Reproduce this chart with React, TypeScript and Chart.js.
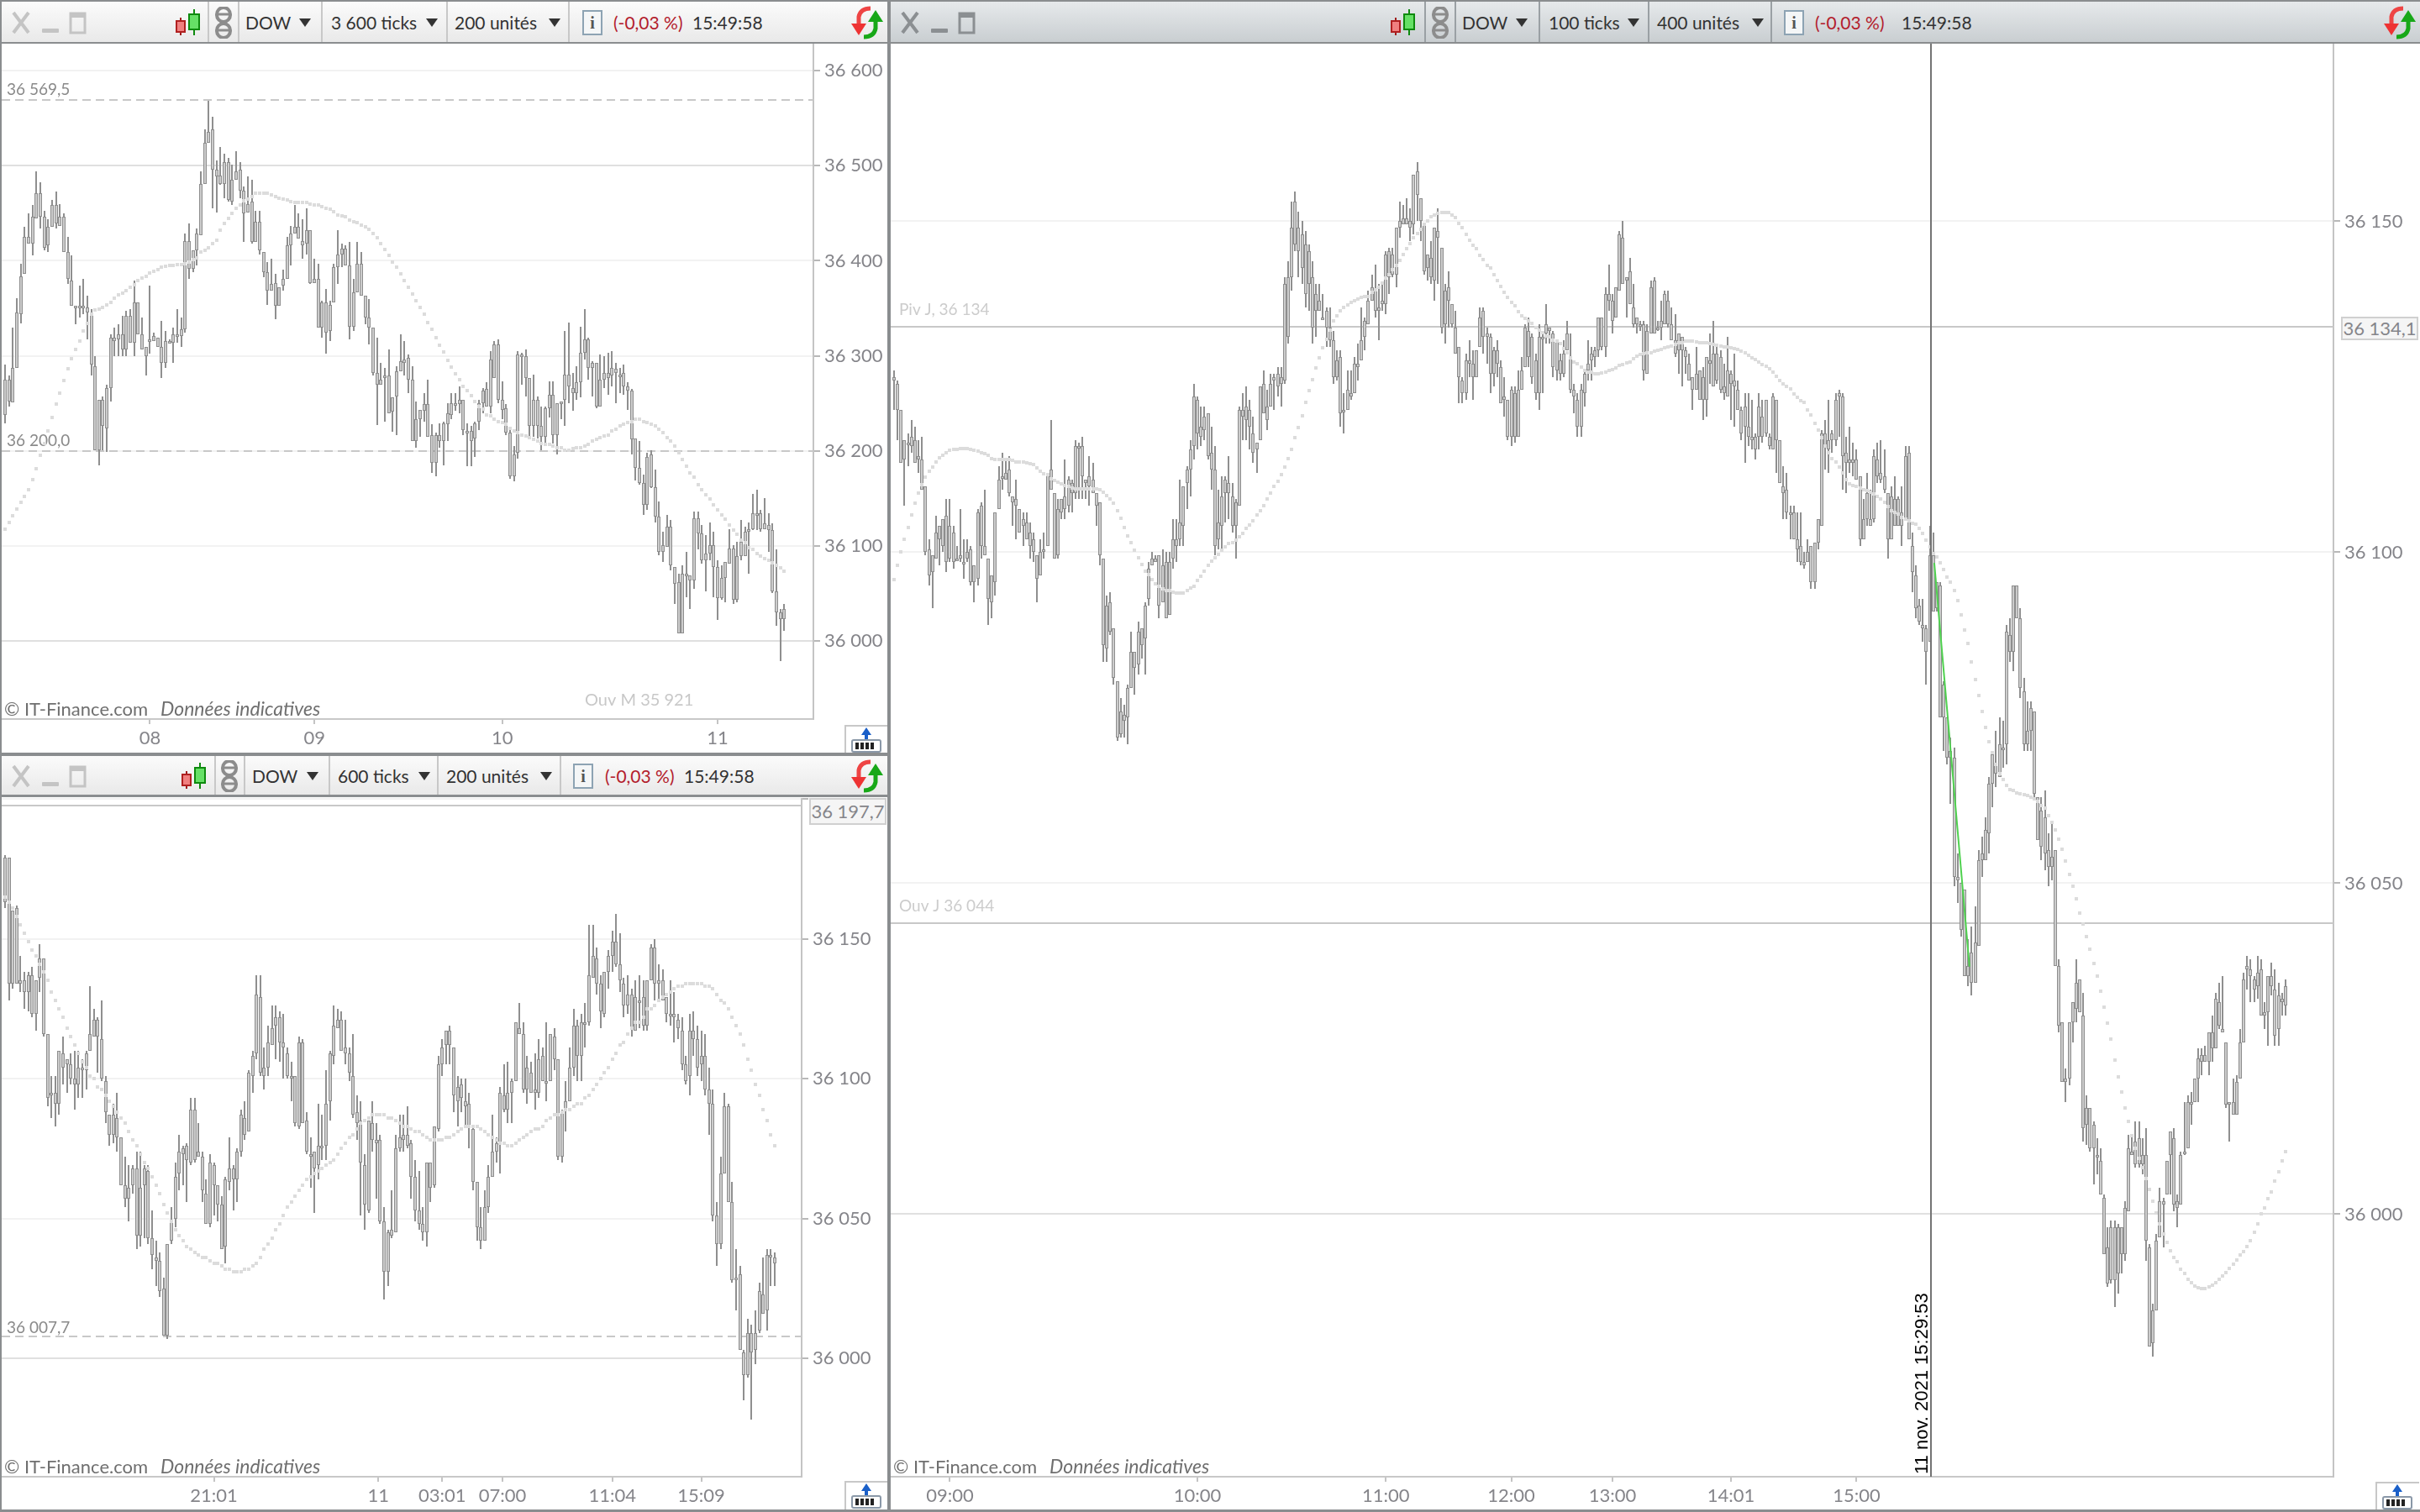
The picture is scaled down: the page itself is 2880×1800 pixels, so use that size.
import React, { useEffect, useRef } from "react";
import { Chart, registerables } from "chart.js";

Chart.register(...registerables);

// Each candle row: [high, low, body top, body bottom]
const topLeftBars: number[][] = [
[36291,36229,36275,36238],[36279,36247,36275,36252],[36330,36251,36287,36251],[36361,36287,36346,36287],[36397,36334,36384,36344],[36436,36386,36425,36386],[36450,36418,36425,36418],[36459,36406,36446,36418],[36494,36445,36471,36445],[36483,36434,36471,36446],
[36453,36411,36446,36414],[36444,36409,36436,36416],[36464,36436,36459,36436],[36473,36434,36459,36439],[36460,36437,36446,36437],[36450,36409,36446,36409],[36425,36376,36409,36381],[36406,36353,36379,36353],[36353,36333,36353,36351],[36374,36340,36353,36351],
[36381,36344,36353,36351],[36363,36317,36351,36346],[36349,36279,36346,36291],[36300,36201,36289,36201],[36254,36185,36254,36201],[36257,36201,36254,36226],[36270,36199,36266,36224],[36323,36252,36319,36266],[36330,36300,36319,36316],[36333,36300,36323,36317],
[36342,36300,36323,36307],[36347,36300,36342,36307],[36349,36314,36342,36314],[36379,36300,36356,36314],[36356,36323,36356,36323],[36340,36307,36323,36307],[36309,36279,36309,36300],[36374,36302,36317,36316],[36324,36316,36321,36316],[36319,36309,36319,36309],
[36337,36277,36309,36293],[36326,36287,36316,36293],[36317,36314,36316,36314],[36330,36293,36323,36314],[36349,36314,36323,36321],[36340,36309,36328,36321],[36429,36324,36421,36328],[36439,36381,36421,36392],[36411,36388,36411,36392],[36434,36395,36429,36411],
[36494,36427,36481,36427],[36538,36481,36524,36481],[36568,36524,36536,36524],[36552,36455,36538,36496],[36506,36451,36496,36489],[36520,36480,36490,36481],[36513,36466,36504,36481],[36508,36462,36504,36464],[36501,36459,36485,36462],[36515,36485,36494,36485],
[36504,36466,36496,36474],[36478,36420,36474,36450],[36489,36451,36460,36451],[36485,36418,36462,36420],[36453,36420,36441,36420],[36453,36407,36441,36411],[36409,36383,36409,36388],[36399,36354,36388,36369],[36402,36369,36376,36369],[36386,36339,36377,36353],
[36372,36353,36372,36353],[36391,36369,36381,36374],[36425,36381,36416,36381],[36437,36395,36429,36416],[36459,36429,36436,36429],[36450,36423,36436,36423],[36444,36402,36421,36416],[36455,36407,36432,36418],[36432,36376,36432,36377],[36402,36377,36381,36377],
[36397,36330,36381,36330],[36358,36319,36356,36330],[36370,36302,36356,36324],[36358,36316,36354,36326],[36397,36356,36393,36356],[36432,36376,36407,36393],[36418,36393,36413,36407],[36416,36395,36413,36395],[36420,36317,36395,36331],[36381,36326,36367,36331],
[36420,36367,36397,36367],[36409,36363,36397,36363],[36363,36333,36363,36340],[36360,36312,36340,36330],[36330,36279,36330,36282],[36319,36227,36282,36270],[36293,36270,36275,36270],[36287,36231,36279,36277],[36307,36240,36279,36240],[36256,36220,36256,36241],
[36289,36217,36284,36257],[36323,36284,36294,36284],
[36316,36279,36296,36293],[36301,36261,36298,36275],[36289,36210,36275,36210],[36252,36203,36233,36210],[36243,36215,36243,36233],[36261,36231,36249,36242],[36275,36215,36249,36215],[36228,36177,36217,36187],[36219,36173,36217,36187],[36229,36203,36217,36210],
[36231,36185,36229,36210],[36250,36210,36240,36228],[36261,36233,36250,36238],[36261,36242,36250,36249],[36268,36240,36254,36249],[36254,36217,36254,36222],[36229,36184,36221,36220],[36226,36184,36221,36210],[36231,36194,36229,36213],[36254,36222,36250,36231],
[36266,36240,36263,36250],[36272,36247,36265,36247],[36305,36240,36296,36247],[36316,36277,36312,36277],[36317,36250,36312,36254],[36273,36233,36254,36243],[36249,36217,36245,36219],[36222,36171,36219,36173],[36205,36168,36196,36173],[36305,36192,36301,36198],
[36303,36270,36301,36300],[36307,36257,36300,36277],[36277,36215,36277,36226],[36280,36215,36254,36226],[36257,36213,36254,36226],[36247,36201,36226,36215],[36247,36205,36245,36215],[36273,36235,36259,36245],[36273,36208,36259,36217],[36250,36196,36250,36217],
[36252,36233,36252,36250],[36326,36226,36280,36254],[36335,36250,36280,36268],[36282,36242,36266,36261],[36289,36254,36272,36261],[36331,36256,36303,36272],[36349,36296,36317,36303],[36319,36275,36317,36287],[36294,36257,36293,36287],[36293,36245,36293,36247],
[36301,36247,36275,36247],[36300,36266,36282,36275],[36303,36259,36282,36277],[36305,36268,36287,36279],[36293,36250,36286,36282],[36287,36261,36280,36280],[36291,36259,36282,36268],[36272,36243,36268,36263],[36265,36196,36263,36212],[36213,36169,36213,36182],
[36210,36164,36182,36166],[36175,36133,36166,36143],[36198,36138,36194,36143],[36201,36161,36196,36162],[36180,36125,36162,36131],[36147,36090,36131,36094],[36115,36083,36101,36094],[36133,36099,36120,36099],[36127,36074,36120,36080],[36078,36039,36078,36060],
[36071,36008,36062,36008],[36080,36008,36071,36008],[36094,36046,36071,36069],[36069,36034,36069,36064],[36136,36055,36129,36064],[36136,36096,36129,36113],[36122,36081,36113,36085],[36111,36052,36092,36085],[36125,36085,36101,36092],[36115,36046,36101,36078],
[36085,36022,36078,36045],[36080,36043,36066,36045],[36083,36041,36083,36066],[36118,36081,36097,36081],[36101,36039,36097,36043],[36104,36041,36089,36043],[36127,36085,36104,36089],[36120,36089,36115,36089],[36125,36071,36118,36115],[36155,36117,36134,36118],
[36159,36117,36134,36134],[36138,36115,36134,36118],[36150,36118,36124,36118],[36134,36094,36122,36117],[36124,36050,36117,36052],[36096,36016,36052,36030],[36034,35979,36030,36023],[36039,36011,36034,36023],
];
const topLeftMa: number[] = [
36118,36125,36132,36139,36146,36152,36159,36170,36181,36195,36208,36221,36235,36249,36261,36274,36286,36297,36307,36316,36326,36334,36344,36348,36349,36351,36354,36356,36361,36364,36366,36369,36372,36375,36379,36382,36384,36387,36389,36391,
36393,36394,36395,36395,36396,36396,36397,36399,36401,36403,36409,36411,36414,36418,36422,36432,36439,36445,36450,36455,36459,36463,36465,36468,36471,36471,36471,36471,36469,36468,36466,36465,36464,36462,36461,36461,36461,36461,36460,36459,
36459,36457,36455,36454,36452,36448,36447,36446,36443,36441,36440,36438,36436,36433,36429,36424,36418,36412,36406,36399,36393,36386,36379,36372,36365,36358,36351,36344,36335,36328,36319,36311,36304,36295,36288,36281,36275,36268,36263,36258,
36252,36247,36244,36238,36237,36233,36231,36230,36228,36224,36221,36219,36217,36216,36214,36212,36210,36208,36207,36207,36205,36203,36203,36201,36201,36202,36203,36203,36205,36207,36210,36212,36214,36216,36217,36221,36223,36226,36228,36230,
36231,36233,36233,36231,36230,36228,36226,36223,36219,36214,36210,36205,36198,36191,36184,36177,36172,36164,36159,36154,36149,36143,36138,36133,36128,36122,36117,36112,36106,36103,36098,36096,36092,36089,36087,36085,36082,36080,36077,36073,
];
const bottomLeftBars: number[][] = [
[36180,36161,36179,36163],[36179,36128,36179,36134],[36160,36132,36160,36134],[36162,36134,36161,36134],[36144,36131,36135,36134],[36138,36125,36135,36131],[36138,36124,36137,36131],[36140,36122,36137,36123],[36135,36117,36135,36123],[36148,36131,36143,36136],
[36143,36115,36143,36116],[36116,36090,36116,36093],[36101,36086,36095,36094],[36101,36083,36095,36091],[36110,36087,36110,36091],[36115,36098,36109,36104],[36107,36095,36107,36105],[36109,36098,36105,36100],[36110,36089,36100,36098],[36110,36093,36104,36098],
[36107,36093,36104,36103],[36110,36096,36109,36103],[36133,36110,36116,36110],[36125,36115,36121,36115],[36122,36102,36121,36115],[36128,36099,36114,36100],[36101,36084,36099,36088],[36087,36076,36087,36080],[36091,36077,36087,36080],[36095,36074,36086,36079],
[36079,36062,36079,36062],[36072,36054,36062,36057],[36069,36049,36061,36057],[36069,36059,36068,36062],[36074,36039,36068,36044],[36074,36040,36061,36044],[36069,36043,36068,36062],[36069,36041,36067,36043],[36053,36032,36043,36037],[36042,36026,36036,36035],
[36038,36022,36035,36024],[36029,36008,36025,36008],[36041,36007,36041,36008],[36054,36041,36049,36042],[36070,36047,36065,36050],[36080,36060,36074,36066],[36076,36062,36075,36073],[36077,36056,36076,36071],[36093,36069,36089,36070],[36093,36070,36089,36071],
[36084,36072,36074,36072],[36074,36056,36072,36060],[36064,36048,36059,36048],[36073,36047,36070,36048],[36070,36051,36069,36062],[36062,36049,36062,36055],[36058,36039,36055,36039],[36065,36034,36064,36040],[36079,36060,36068,36063],[36069,36053,36068,36064],
[36075,36056,36074,36064],[36089,36072,36087,36074],[36092,36078,36086,36080],[36103,36081,36102,36081],[36110,36095,36108,36101],[36137,36107,36130,36109],[36137,36101,36129,36102],[36111,36096,36104,36101],[36119,36101,36113,36104],[36126,36112,36118,36112],
[36126,36107,36122,36119],[36124,36106,36122,36113],[36123,36100,36113,36111],[36111,36100,36109,36101],[36106,36092,36101,36101],[36101,36083,36101,36084],[36115,36082,36113,36083],[36114,36084,36113,36084],[36088,36073,36085,36074],[36079,36061,36073,36072],
[36074,36052,36074,36068],[36091,36064,36076,36069],[36087,36071,36076,36076],[36103,36071,36091,36076],[36110,36085,36109,36092],[36126,36105,36119,36108],[36125,36118,36121,36118],[36124,36110,36121,36110],[36121,36105,36111,36109],[36111,36099,36109,36102],
[36116,36086,36101,36087],[36094,36078,36088,36084],[36092,36051,36085,36070],[36073,36046,36069,36055],[36085,36052,36085,36053],[36092,36074,36084,36078],[36084,36057,36078,36077],[36080,36048,36078,36049],[36054,36021,36049,36031],[36046,36026,36045,36031],
[36060,36043,36046,36044],[36080,36045,36075,36045],[36087,36074,36079,36075],
[36087,36074,36080,36078],[36090,36075,36080,36076],[36078,36057,36077,36065],[36071,36049,36065,36053],[36067,36046,36053,36048],[36054,36042,36048,36045],[36070,36040,36070,36045],[36070,36056,36070,36061],[36083,36061,36083,36062],[36108,36081,36105,36082],
[36114,36101,36111,36105],[36117,36105,36117,36112],[36119,36105,36117,36112],[36111,36088,36111,36094],[36101,36083,36097,36092],[36100,36088,36098,36093],[36100,36083,36092,36090],[36095,36075,36091,36083],[36083,36060,36082,36063],[36063,36042,36063,36047],
[36054,36039,36047,36042],[36060,36042,36054,36042],[36069,36052,36065,36054],[36087,36065,36074,36065],[36079,36070,36077,36074],[36097,36066,36095,36077],[36105,36088,36094,36089],[36106,36084,36095,36089],[36100,36084,36099,36095],[36120,36099,36120,36099],
[36127,36116,36118,36116],[36120,36095,36116,36096],[36108,36091,36104,36096],[36106,36095,36102,36095],[36109,36089,36096,36095],[36114,36093,36107,36095],[36111,36099,36108,36099],[36120,36092,36099,36099],[36116,36099,36116,36099],[36118,36103,36115,36107],
[36107,36071,36107,36072],[36089,36070,36088,36072],[36099,36081,36092,36089],[36111,36092,36104,36092],[36125,36101,36119,36104],[36121,36099,36119,36108],[36123,36099,36120,36108],[36127,36111,36120,36120],[36155,36119,36137,36120],[36155,36136,36144,36136],
[36147,36130,36143,36134],[36137,36118,36134,36124],[36138,36122,36138,36123],[36146,36132,36144,36138],[36153,36138,36149,36144],[36159,36140,36149,36141],[36152,36131,36141,36135],[36136,36122,36134,36126],[36137,36123,36130,36126],[36132,36115,36130,36118],
[36135,36117,36129,36117],[36137,36118,36128,36128],[36135,36117,36129,36119],[36135,36117,36135,36119],[36148,36135,36147,36135],[36150,36128,36147,36134],[36141,36128,36135,36134],[36139,36128,36135,36128],[36129,36120,36129,36123],[36135,36119,36123,36123],
[36131,36113,36123,36122],[36123,36114,36121,36118],[36122,36103,36117,36105],[36108,36098,36105,36099],[36123,36094,36117,36101],[36124,36108,36117,36114],[36119,36101,36114,36104],[36117,36099,36108,36105],[36116,36094,36108,36096],[36104,36080,36096,36091],
[36096,36049,36091,36051],[36056,36033,36051,36041],[36072,36039,36066,36041],[36095,36066,36090,36066],[36091,36056,36090,36056],[36063,36027,36056,36028],[36039,36017,36029,36029],[36033,36003,36030,36003],[36003,35985,36002,35994],[36014,35993,36009,35994],
[36012,35978,36009,36002],[36017,35998,36009,36003],[36027,36009,36024,36010],[36036,36016,36023,36016],[36039,36010,36037,36017],[36039,36026,36037,36036],[36038,36026,36036,36034],
];
const bottomLeftMa: number[] = [
36165,36163,36161,36158,36155,36152,36149,36146,36144,36141,36138,36135,36131,36128,36125,36122,36118,36115,36112,36109,36106,36104,36101,36100,36097,36096,36094,36092,36090,36088,36086,36084,36081,36078,36076,36073,36070,36068,36065,36062,
36059,36055,36052,36049,36046,36044,36042,36040,36039,36038,36037,36036,36036,36035,36034,36034,36033,36032,36032,36031,36031,36031,36032,36032,36033,36034,36036,36039,36041,36043,36046,36048,36051,36054,36056,36058,36060,36062,36064,36065,
36066,36067,36068,36069,36070,36071,36073,36075,36077,36079,36080,36082,36084,36085,36086,36087,36087,36087,36087,36086,36086,36085,36084,36083,36083,36082,36081,36081,36080,36079,36078,36078,36078,36078,36079,36079,36080,36081,36082,36083,
36083,36083,36083,36082,36081,36080,36079,36078,36077,36077,36076,36076,36077,36078,36079,36080,36081,36082,36082,36083,36085,36086,36087,36087,36088,36089,36089,36090,36091,36091,36093,36094,36096,36098,36100,36102,36104,36107,36109,36112,
36113,36116,36118,36120,36120,36122,36125,36125,36126,36128,36129,36130,36131,36132,36133,36133,36134,36134,36134,36134,36134,36133,36133,36132,36130,36128,36127,36125,36122,36119,36116,36112,36107,36103,36098,36094,36089,36085,36080,36076,
];
const rightBars: number[][] = [
[36127.5,36121.5,36126.5,36126],[36126,36117,36125.5,36121.5],[36121.5,36113.5,36121.5,36113.5],[36117,36107,36117,36114],[36118,36113,36116.5,36116.5],[36120,36115,36117.5,36116],[36119,36113.5,36117,36113.5],[36117,36112,36114.5,36114],[36117.5,36109.5,36114,36109.5],[36110,36099.5,36110,36100],
[36102,36095,36100.5,36096.5],[36099.5,36091.5,36099.5,36097],[36105.5,36099,36103,36099],[36104,36098,36104,36102],[36105,36100,36105,36101],[36108,36097,36105.5,36098.5],[36108,36098.5,36104,36099],[36104,36097.5,36103,36098.5],[36101,36099,36099,36099],[36106.5,36098.5,36099.5,36099],
[36102,36096,36098.5,36098.5],[36102,36098.5,36100,36099],[36101,36095,36100.5,36095.5],[36098,36092.5,36098,36095.5],[36106.5,36095,36106,36096],[36107.5,36099,36107,36101],[36109.5,36099.5,36101,36099.5],[36099,36089,36099,36093],[36096.5,36090,36096.5,36092.5],[36106,36093.5,36106,36095.5],
[36113,36106.5,36111,36106.5],[36115,36109.5,36111.5,36111.5],[36114,36111,36112,36111],[36114.5,36108.5,36112.5,36109],[36108.5,36104,36108.5,36107.5],[36111,36102,36108,36107],[36106.5,36103,36106.5,36103],[36106,36101,36105,36104],[36106,36102,36104.5,36102],[36104.5,36099,36103,36101],
[36103,36098.5,36102,36100],[36099.5,36092.5,36099.5,36096],[36102,36096.5,36100,36096.5],[36103,36099,36100.5,36100],[36112,36101,36112,36101],[36120,36109.5,36112.5,36109.5],[36109,36099,36109,36099],[36108,36099,36106.5,36099.5],[36108,36105,36108,36106],[36114,36105,36108.5,36106.5],
[36111.5,36106,36111,36107],[36111,36106,36110.5,36109],[36117,36108,36116,36109],[36116.5,36108,36116,36116],[36117.5,36108,36116,36111.5],[36111,36108,36111,36110.5],[36114.5,36107,36111.5,36110],[36113.5,36109,36111,36109],[36109,36104,36109,36107],[36107.5,36098,36107.5,36099.5],
[36099,36083.5,36099,36086],[36093.5,36083.5,36092,36085.5],[36094,36087.5,36092.5,36088],[36088.5,36080,36088.5,36081],[36080.5,36071.5,36080.5,36072],[36078,36072,36076,36072.5],[36077,36072,36075.5,36074.5],[36080,36071,36079.5,36075],[36088,36079.5,36085,36079.5],[36085,36078.5,36085,36082.5],
[36089.5,36081.5,36088,36083],[36088.5,36084,36088.5,36086],[36092.5,36081.5,36092,36087],[36098.5,36092,36097.5,36093],[36100,36098,36099,36098],[36099.5,36098.5,36099,36098.5],[36099.5,36090,36099.5,36092],[36100.5,36092.5,36098,36092.5],[36100,36090,36098.5,36090],[36100,36090.5,36098.5,36090.5],
[36105,36097.5,36102,36099],[36105,36098.5,36102,36101],[36111,36101,36104.5,36102],[36110,36101,36110,36104],[36113,36106.5,36112.5,36110.5],[36117,36108.5,36115.5,36112.5],[36125.5,36114,36123.5,36116],[36123.5,36115.5,36123,36118],[36122,36116,36119,36117.5],[36122,36117,36120.5,36118.5],
[36121,36114,36121,36114.5],[36119,36109.5,36115,36112.5],[36116,36099.5,36112.5,36101],[36109.5,36100.5,36104.5,36102],[36111.5,36100.5,36108.5,36104],[36111.5,36104.5,36111,36109],[36114.5,36105,36110.5,36109],[36110.5,36103,36108.5,36104],[36108,36099,36107.5,36104],[36122,36107,36121.5,36107],
[36124,36117,36121.5,36120.5],[36125,36117,36122,36120],[36123,36115.5,36121.5,36119],[36120.5,36113.5,36118,36115],[36116.5,36112,36116.5,36115.5],[36125,36117,36125,36117],[36127.5,36121,36125.5,36121],[36124.5,36118.5,36122,36120],[36127,36122,36125.5,36122],[36127,36121.5,36126.5,36126],
[36128,36123.5,36127,36125],[36128,36122,36126.5,36125.5],[36141.5,36125.5,36140.5,36126],
[36144,36131.5,36141.5,36132.5],[36153,36139.5,36149,36141.5],[36154.5,36145.5,36153,36146.5],[36151.5,36141.5,36149,36145.5],[36150,36140.5,36148,36143],[36148.5,36137,36146.5,36139],[36146.5,36136.5,36145.5,36140.5],[36144,36131.5,36141.5,36134],[36140.5,36132.5,36139,36136.5],
[36140.5,36136.5,36138,36136.5],[36139,36135.5,36135.5,36135.5],[36137,36131,36136.5,36134],[36137,36131,36134,36132],[36133.5,36125.5,36132,36126.5],[36130.5,36126,36129,36126.5],[36130.5,36119,36129.5,36121],[36124,36118,36121.5,36121.5],[36127.5,36121.5,36124.5,36121.5],[36127.5,36123,36124,36123.5],
[36129.5,36124,36128.5,36124],[36131.5,36126,36128.5,36128],[36137,36129,36132,36129],[36135.5,36130.5,36135,36132.5],[36139.5,36134.5,36138,36134.5],[36142,36138,36140,36138],[36143.5,36135.5,36139.5,36136.5],[36140.5,36132,36137,36136.5],[36140.5,36136.5,36138,36137.5],[36145.5,36136,36145,36137.5],
[36146,36139,36145.5,36141.5],[36146,36141.5,36145,36142],[36149,36140,36149,36142],[36153,36147.5,36150,36149],[36152.5,36149.5,36150.5,36149.5],[36153.5,36149.5,36150.5,36149.5],[36152,36147,36150,36149],[36157,36148,36157,36149.5],[36159,36150,36157.5,36154],[36153.5,36147,36153.5,36150],
[36149.5,36142,36149.5,36142.5],[36145,36141,36145,36143],[36147,36140.5,36144.5,36141.5],[36149,36138,36149,36141],[36152,36140.5,36148.5,36147.5],[36146,36133,36146,36134],[36140.5,36131.5,36139.5,36134.5],[36142.5,36134,36140,36138],[36137.5,36134,36137.5,36134.5],[36136.5,36130,36134,36130],
[36131,36122.5,36131,36126.5],[36126.5,36122.5,36126,36124],[36130,36123,36129,36124],[36132,36126.5,36129,36128.5],[36130.5,36123,36128.5,36126.5],[36130.5,36126.5,36130.5,36126.5],[36137,36131,36135.5,36131],[36137,36130,36136.5,36132.5],[36134,36128.5,36133,36132.5],[36133,36124,36132.5,36127],
[36131,36125,36130.5,36127],[36132,36126.5,36130.5,36128.5],[36129,36122.5,36128,36122.5],[36126.5,36120.5,36123.5,36123],[36123,36117,36123,36117.5],[36125,36116,36124.5,36117.5],[36125,36116.5,36124,36117.5],[36127.5,36117.5,36124.5,36117.5],[36129.5,36124.5,36127.5,36124.5],[36134.5,36128,36134,36128],
[36135.5,36128,36133.5,36129.5],[36133,36125.5,36132.5,36126.5],[36130,36123,36129,36124],[36134.5,36121.5,36132.5,36124],[36133.5,36124,36132.5,36132.5],[36137.5,36131.5,36134.5,36133],[36134,36131.5,36134,36133.5],[36133.5,36126.5,36133,36128],[36132,36126,36132,36127.5],[36130,36126,36129,36127],
[36132,36126.5,36130,36127],[36135,36130.5,36133,36130.5],[36133,36124,36129.5,36124.5],[36125.5,36121,36124.5,36123.5],[36124,36117.5,36123,36119],[36125.5,36117.5,36124.5,36119],[36127.5,36122,36127,36124],[36132,36126,36128.5,36127.5],[36131,36126,36130,36129],[36131,36128,36130.5,36129.5],
[36135.5,36129.5,36135.5,36130.5],[36135.5,36130.5,36135.5,36131],[36140,36129.5,36139,36131],[36143.5,36136.5,36139,36138],[36139,36133,36138,36135],[36140,36135.5,36140,36135.5],[36148.5,36139.5,36148,36139.5],[36150,36140.5,36147.5,36140.5],[36141.5,36135.5,36141.5,36141],[36144.5,36137.5,36142.5,36137.5],
[36140.5,36134,36137,36134.5],[36135.5,36133,36135.5,36134.5],[36135,36133.5,36134.5,36134.5],[36135,36126,36134.5,36127.5],[36134.5,36127,36133.5,36127],[36141,36133,36140,36133],[36141.5,36133,36141,36133],[36135,36133.5,36134,36134],[36138,36132,36135,36134],[36139.5,36134.5,36139,36134.5],
[36139.5,36134,36138,36134.5],[36137,36132,36134.5,36132],[36136,36129.5,36132,36130],[36133,36127,36133,36130.5],[36132.5,36125,36132.5,36130.5],[36131,36127,36130.5,36129.5],[36130,36126,36128.5,36126],[36126.5,36121.5,36126.5,36124.5],[36131,36124.5,36127,36124.5],[36127.5,36123,36127.5,36123],
[36128,36120,36126.5,36123],[36129.5,36120.5,36129.5,36123],[36133,36125.5,36129,36128.5],[36135,36125,36130,36125],[36131,36125.5,36130,36126],[36130.5,36124,36129.5,36124.5],[36128.5,36123,36125,36124],[36132.5,36123.5,36127.5,36123.5],[36127.5,36120,36127,36125.5],[36130,36119,36126,36125],
[36126,36121.5,36124.5,36121.5],[36122,36117,36121.5,36118],[36124,36113.5,36122,36119],[36124,36116,36119,36117.5],[36123,36115.5,36117.5,36117],[36118,36114,36117.5,36115.5],[36124,36115.5,36122,36117.5],[36123,36116.5,36120.5,36117.5],[36123,36117.5,36123,36118],[36118,36115.5,36117.5,36116],
[36124,36115.5,36123.5,36115.5],[36123,36112,36123,36117],[36117,36110.5,36117,36110.5],[36113,36105,36110,36109],[36112,36105,36109.5,36106],[36107,36102,36106,36106],[36107,36102,36106,36102],[36106,36098.5,36102,36100.5],[36106,36098,36101,36098.5],[36100,36097.5,36098.5,36098],
[36102,36098.5,36100,36098.5],[36101,36094.5,36101,36095.5],[36101.5,36094.5,36101.5,36095.5],[36105,36100.5,36105,36101.5],[36118.5,36104,36118,36104],[36120,36112.5,36118,36116],[36123,36112,36117,36115.5],[36118.5,36115,36118,36117],[36124,36116,36123,36117],[36124.5,36117.5,36124,36123.5],
[36124,36109.5,36123.5,36114.5],[36117.5,36109,36115,36113.5],[36119,36112,36114,36113.5],[36116.5,36111.5,36114,36113.5],[36115.5,36111,36114,36111],[36111.5,36101,36111.5,36102],[36108,36102,36105,36102],[36112,36104,36109,36105],[36109.5,36104,36105,36104],[36115.5,36104.5,36114.5,36105],
[36116.5,36110.5,36114,36111.5],[36117,36110.5,36112,36111],[36115.5,36109,36111.5,36109.5],[36109,36099,36109,36102],[36110,36102,36108.5,36102],[36111.5,36104,36108,36104],[36108.5,36104,36108,36104],[36110,36101,36106,36104],[36116,36105,36114.5,36105],[36116,36102,36115,36102],
[36103,36094,36101,36097],[36098,36090,36096.5,36091.5],[36093,36089,36092,36089.5],[36093,36086.5,36089,36088.5],[36089,36080,36088.5,36085],
[36104,36086.5,36099.5,36086.5],[36103,36091,36099.5,36091],[36095.5,36091,36095.5,36091.5],[36095.5,36075,36095,36075],[36080.5,36070,36080,36075],[36075,36068,36075,36069],[36072,36062,36070,36069],[36070.5,36049.5,36069,36051],[36054.5,36047,36051,36050.5],[36050,36042,36050,36043],
[36049,36036,36049,36036],[36041.5,36034.5,36037.5,36036],[36043.5,36033,36039.5,36035],[36046.5,36035,36041,36035],[36055,36040.5,36053.5,36040.5],[36057,36051,36054.5,36053.5],[36060,36053.5,36058,36053.5],[36066,36054.5,36065,36057.5],[36069.5,36061.5,36069.5,36065],[36073,36064.5,36068,36066.5],
[36075,36066,36071,36066],[36074.5,36067.5,36070.5,36070.5],[36089,36068,36088,36071],[36090,36083.5,36087.5,36085],[36095,36082,36095,36085],[36095,36090,36095,36090],[36091.5,36078,36090,36079.5],[36081,36070,36079,36071],[36077.5,36070,36073,36071],[36077.5,36070,36076.5,36073],
[36076,36063,36076,36063.5],[36063,36056.5,36063,36056.5],[36063,36053.5,36061,36055.5],[36064,36052,36060,36054.5],[36057.5,36049.5,36055,36052.5],[36059,36050.5,36054,36052.5],[36055,36037.5,36055,36037.5],[36038.5,36027.5,36037.5,36028.5],[36029,36020,36029,36020],[36022,36017,36020.5,36020],
[36029,36019.5,36029,36020.5],[36032,36026,36032,36029],[36038.5,36029,36035,36031],[36035.5,36030.5,36035.5,36030.5],[36033.5,36011,36030,36013],[36018,36010.5,36016,36013.5],[36016,36009.5,36016,36010],[36014,36004.5,36013.5,36010],[36011.5,36006,36009,36009],[36010,36003,36008,36003],
[36003,35994,36002.5,35994],[35998,35989,35995,35989.5],[35999,35989.5,35998,35990],[35999,35986,35998,35990],[35998.5,35988,35998,35991],[35998,35991,35998,35994],[36002,35993,36001,35994],[36012,36000.5,36010,36000.5],[36012,36009,36009.5,36009],[36014,36007,36011,36007.5],
[36014,36007,36011.5,36007.5],[36011.5,36006,36009,36007.5],[36013,35993,36009,35996],[35995.5,35980,35995,35980],[35986.5,35978.5,35985.5,35980.5],[35997,35985.5,35996,35985.5],[36004,35996.5,36002,35996.5],[36002.5,35995,36002,36001.5],[36008,36003,36008,36003],[36012.5,36003,36012.5,36009],
[36013,36000.5,36011.5,36001.5],[36003,35998,36002,36001],[36009.5,36001.5,36009,36001.5],[36017,36009,36009.5,36009.5],[36018,36010,36017,36010],[36018.5,36013.5,36017,36017],[36020.5,36017,36020.5,36017],[36025,36017,36023.5,36020.5],[36025,36021,36024,36023],[36025.5,36023,36024,36023],
[36027.5,36021,36027.5,36023],[36030,36023,36027.5,36025],[36033.5,36025,36032.5,36025],[36035,36028,36032,36028.5],[36036,36027.5,36028,36027.5],[36026,36016,36026,36016.5],[36017,36011,36017,36016.5],[36020.5,36015,36017,36015],[36021,36015,36020,36015],[36028,36020.5,36026,36020.5],
[36036.5,36026,36035.5,36026],[36039,36034,36037.5,36037],[36038.5,36032,36037,36036],[36036,36032,36035.5,36034],[36039,36032.5,36036.5,36034.5],[36038.5,36030,36037,36030],[36032,36028,36030.5,36030],[36036,36025.5,36036,36030.5],[36038,36033,36036,36034.5],[36037,36025.5,36034,36027],
[36035,36025.5,36033,36028],[36033.5,36030,36032.5,36032],[36035.5,36030,36034.5,36031.5],
];
const rightMa: number[] = [
36095.9,36098,36100,36102,36103.8,36105.6,36107.4,36108.9,36110.2,36111.4,36112.2,36112.9,36113.7,36114.3,36114.7,36115.1,36115.4,36115.6,36115.6,36115.7,36115.7,36115.7,36115.5,36115.4,36115.3,36115.1,36114.9,36114.6,36114.2,36114,36114,36114,36114,36114,36113.9,36113.7,36113.7,36113.7,36113.5,36113.4,
36113.2,36112.7,36112.3,36111.9,36111.7,36111.1,36110.8,36110.6,36110.4,36110.1,36109.9,36109.7,36109.6,36109.6,36109.6,36109.6,36109.6,36109.6,36109.6,36109.4,36109.1,36108.6,36108.1,36107.4,36106.3,36105.1,36103.8,36102.5,36101.5,36100.3,
36099.2,36098.2,36097.2,36096.6,36095.9,36095.3,36094.8,36094.5,36094.2,36094.2,36094,36093.9,36093.9,36093.9,36094.2,36094.6,36094.9,36095.7,36096.4,36097.2,36098,36098.7,36099.2,36099.7,36100.3,36100.8,36101.3,36101.5,36101.8,36102.3,
36102.8,36103.6,36104.1,36104.8,36105.6,36106.3,36107.1,36108.1,36108.9,36109.9,36110.7,36111.7,36112.9,36114.2,36115.5,36117.3,36118.8,36120.6,36122.6,36124.4,36126.1,36127.9,36129.4,
36130.9,36132.2,36133.6,36134.9,36135.7,36136.5,36137,36137.4,36137.7,36138,36138.2,36138.5,36138.6,36138.7,36139.3,36139.7,36140.1,36140.7,36141.4,36142,36142.7,36143.3,36144.1,36145,36145.9,36146.6,36147.5,36148.1,36148.8,36149.5,36150.1,36150.7,36151,36151.2,36151.3,36151.3,36151.3,
36151,36150.6,36149.7,36149,36148,36147.2,36146.4,36145.9,36144.9,36144.2,36143.3,36142.9,36142,36141,36140.2,36139.3,36138.5,36137.8,36137.3,36136.3,36135.7,36135.3,36134.9,36134.6,36134,36133.6,36133.2,36132.7,36132.5,36132.1,36131.9,36131.5,36130.8,36130.2,36129.4,36128.8,36128.5,36128,36127.5,36127.2,
36127.2,36127,36127,36127.1,36127.2,36127.5,36127.6,36127.9,36128.2,36128.4,36128.6,36128.8,36129.3,36129.6,36129.9,36130,36130.1,36130.2,36130.4,36130.5,36130.7,36130.9,36131,36131.1,36131.4,36131.6,36131.7,36131.9,36131.9,36131.9,36131.8,36131.7,36131.6,36131.6,36131.5,36131.4,36131.3,36131.2,36131,36131,
36130.9,36130.8,36130.6,36130.4,36130.2,36129.8,36129.4,36129.1,36128.7,36128.4,36128.1,36127.7,36127.2,36126.6,36125.9,36125.5,36125,36124.7,36123.9,36123.4,36122.9,36122.6,36121.5,36120.7,36119.5,36118.5,36117.3,36116,36115.1,36114.2,36113.7,36112.9,36112,36111,36110.3,36110.1,36110,36109.7,36109.4,36109.3,
36109.1,36108.8,36108.4,36108,36107.6,36106.9,36106.3,36106,36105.8,36105.3,36105,36104.7,36104.4,36104.2,36103.6,36102.8,36101.9,36100.8,36099.8,
36099.3,36098.4,36097.4,36096.2,36095.5,36094.2,36092.7,36090.5,36088.3,36086.2,36083.5,36080.8,36078.4,36076,36073.5,36071.4,36069.7,36068,36066.5,36065.7,36064.8,36064.2,36064,36063.7,36063.5,36063.4,36063.2,36063,36062.8,36062.4,36061.8,36061.4,36060.2,36059.2,36058.1,36056.7,36055.1,36053.4,36051.3,36049.5,36047.6,36045.5,36043.9,36042,36040,36037.9,
36036,36033.7,36031.3,36028.9,36026.5,36023.3,36020.8,36018.4,36016,36014,36011.8,36010,36008.4,36007,36005.4,36003.8,36002,36000.2,35998.6,35997,35995.7,35994.5,35993.5,35992.8,35991.7,35991,35990.2,35989.6,35989.2,35988.9,35988.8,35988.8,35989,35989.3,35989.7,35990.1,35990.7,35991.2,35991.8,35992.4,35993.1,35993.8,35994.4,35995.1,35996,35997.3,35998.6,36000,36001,36002.3,36003.4,36005,36006.4,36008,36009.5,
];

const topLeftTickIdx = [37, 79, 127, 182];
const topLeftTickLabels = ["08", "09", "10", "11"];
const bottomLeftTickIdx = [54, 96.5, 113, 128.6, 157, 180];
const bottomLeftTickLabels = ["21:01", "11", "03:01", "07:00", "11:04", "15:09"];
const rightTickIdx = [16, 87, 141, 177, 206, 240, 276];
const rightTickLabels = ["09:00", "10:00", "11:00", "12:00", "13:00", "14:01", "15:00"];

const topLeftDashed = [36569.5, 36200];
const topLeftDashedLabels = ["36 569,5", "36 200,0"];
const bottomLeftDashed = [36007.7];
const bottomLeftDashedLabels = ["36 007,7"];
const bottomLeftSolid = [36197.7];
const rightSolid = [36134.1, 36044];
const rightSolidLabels = ["Piv J, 36 134", "Ouv J 36 044"];
const crosshairIdx = 297.4;
const crosshairLabel = "11 nov. 2021 15:29:53";
const trendIdx = [298.3, 308.4];
const trendValues = [36098.4, 36037.4];

const FONT = "Lato, 'Open Sans', sans-serif";
const TXT = "#85858a";

function fmtPrice(v: number) {
  return String(v).replace(/(\d{2})(\d{3})$/, "$1 $2");
}

type PanelCfg = {
  left: number; top: number; width: number; height: number;
  plotW: number; plotH: number;
  xMin: number; xMax: number; yMin: number; yMax: number; step: number; majors: number[];
  bars: number[][]; ma: number[];
  tickIdx: number[]; tickLabels: string[];
  dashed?: number[]; dashedLabels?: string[]; dashedOffset?: number;
  solid?: number[]; solidLabels?: string[];
  ouvM?: boolean; crosshair?: boolean; trend?: boolean;
};

const panels: PanelCfg[] = [
  { left: 2, top: 52, width: 1054, height: 844, plotW: 966, plotH: 804, xMin: -0.858, xMax: 206.44, yMin: 35917.8, yMax: 36628.5, step: 100, majors: [36000, 36500],
    bars: topLeftBars, ma: topLeftMa, tickIdx: topLeftTickIdx, tickLabels: topLeftTickLabels, dashed: topLeftDashed, dashedLabels: topLeftDashedLabels, dashedOffset: 12, ouvM: true },
  { left: 2, top: 950, width: 1054, height: 846, plotW: 952, plotH: 808, xMin: -0.869, xMax: 205.95, yMin: 35957.7, yMax: 36200.3, step: 50, majors: [36000],
    bars: bottomLeftBars, ma: bottomLeftMa, tickIdx: bottomLeftTickIdx, tickLabels: bottomLeftTickLabels, dashed: bottomLeftDashed, dashedLabels: bottomLeftDashedLabels, dashedOffset: 10, solid: bottomLeftSolid },
  { left: 1060, top: 52, width: 1818, height: 1746, plotW: 1717, plotH: 1706, xMin: -0.964, xMax: 412.77, yMin: 35960.34, yMax: 36176.84, step: 50, majors: [36000],
    bars: rightBars, ma: rightMa, tickIdx: rightTickIdx, tickLabels: rightTickLabels, solid: rightSolid, solidLabels: rightSolidLabels, crosshair: true, trend: true },
];

function makePlugin(p: PanelCfg) {
  return {
    id: "panelDecor",
    afterDatasetsUpdate(chart: any) {
      chart.data.datasets.forEach((ds: any, di: number) => {
        const meta = chart.getDatasetMeta(di);
        if (ds.type === "bar") {
          meta.data.forEach((el: any) => {
            el.x = Math.round(el.x);
            let a = Math.round(el.y), b = Math.round(el.base);
            if (Math.abs(a - b) < 3 && ds.label === "body") b = a + 3;
            el.y = a; el.base = b;
          });
        } else if (ds.label === "ma") {
          meta.data.forEach((el: any) => { el.x = Math.round(el.x); el.y = Math.round(el.y); });
        }
      });
    },
    beforeDatasetsDraw(chart: any) {
      const { ctx, chartArea: a, scales } = chart;
      const y = scales.y;
      ctx.save();
      ctx.font = `19px ${FONT}`;
      ctx.textBaseline = "middle";
      (p.solid || []).forEach((v, i) => {
        const py = Math.round(y.getPixelForValue(v));
        ctx.strokeStyle = "#c8c8c8"; ctx.lineWidth = 2; ctx.setLineDash([]);
        ctx.beginPath(); ctx.moveTo(a.left, py); ctx.lineTo(a.right, py); ctx.stroke();
        if (p.solidLabels && p.solidLabels[i]) {
          ctx.fillStyle = "#cccccc";
          ctx.fillText(p.solidLabels[i], a.left + 10, py - 20);
        }
      });
      (p.dashed || []).forEach((v, i) => {
        const py = Math.round(y.getPixelForValue(v));
        ctx.strokeStyle = "#c8c8c8"; ctx.lineWidth = 2; ctx.setLineDash([10, 6]);
        ctx.beginPath(); ctx.moveTo(a.left, py); ctx.lineTo(a.right, py); ctx.stroke();
        ctx.setLineDash([]);
        if (p.dashedLabels) {
          ctx.fillStyle = "#8a8a8a";
          ctx.fillText(p.dashedLabels[i], a.left + 6, py - (p.dashedOffset || 12));
        }
      });
      ctx.restore();
    },
    afterDatasetsDraw(chart: any) {
      const { ctx, chartArea: a, scales } = chart;
      ctx.save();
      ctx.textBaseline = "middle";
      ctx.fillStyle = "#6f6f6f";
      ctx.font = `22px ${FONT}`;
      ctx.fillText("© IT-Finance.com", a.left + 3, a.bottom - 11);
      ctx.font = `italic 23px ${FONT}`;
      ctx.fillText("Données indicatives", a.left + 189, a.bottom - 11);
      if (p.ouvM) {
        ctx.font = `20px ${FONT}`;
        ctx.fillStyle = "#c8c8c8";
        ctx.fillText("Ouv M 35 921", a.left + 694, a.bottom - 22);
      }
      if (p.crosshair) {
        const px = Math.round(scales.x.getPixelForValue(crosshairIdx));
        ctx.strokeStyle = "#747474"; ctx.lineWidth = 2;
        ctx.beginPath(); ctx.moveTo(px, a.top); ctx.lineTo(px, a.bottom); ctx.stroke();
        ctx.translate(px + 1, a.bottom - 3);
        ctx.rotate(-Math.PI / 2);
        ctx.fillStyle = "#000";
        ctx.textBaseline = "bottom";
        ctx.font = "22px 'Liberation Sans', sans-serif";
        ctx.fillText(crosshairLabel, 0, 0);
      }
      ctx.restore();
    },
  };
}

function ChartPanel({ p }: { p: PanelCfg }) {
  const ref = useRef<HTMLCanvasElement | null>(null);
  useEffect(() => {
    if (!ref.current) return;
    const zeroPad = (s: any) => { s.paddingTop = 0; s.paddingBottom = 0; s.paddingLeft = 0; s.paddingRight = 0; };
    const datasets: any[] = [
      { type: "line", label: "ma", order: 0, showLine: false, pointStyle: "rect", pointRadius: 2.83, pointBorderWidth: 0, pointBackgroundColor: "#dcdcdc",
        data: p.ma.map((v, i) => ({ x: i, y: v })) },
      { type: "bar", label: "body", order: 1, grouped: false, barThickness: 4, backgroundColor: "#cccccc", borderColor: "#8e8e8e", borderWidth: 1, borderSkipped: false, inflateAmount: 0,
        data: p.bars.map((r, i) => ({ x: i, y: [r[3], r[2]] })) },
      { type: "bar", label: "wick", order: 2, grouped: false, barThickness: 2, backgroundColor: "#8f8f8f", borderWidth: 0, inflateAmount: 0,
        data: p.bars.map((r, i) => ({ x: i, y: [r[1], r[0]] })) },
    ];
    if (p.trend) {
      datasets.unshift({ type: "line", label: "trend", order: -1, borderColor: "#4fd14f", borderWidth: 2, pointRadius: 0,
        data: trendIdx.map((x, i) => ({ x, y: trendValues[i] })) });
    }
    const canvas = ref.current;
    const chart = new Chart(canvas, {
      type: "bar",
      data: { datasets },
      plugins: [makePlugin(p)],
      options: {
        animation: false,
        responsive: false,
        maintainAspectRatio: false,
        devicePixelRatio: 1,
        layout: { padding: 0, autoPadding: false },
        plugins: { legend: { display: false }, tooltip: { enabled: false }, title: { display: false } },
        scales: {
          x: {
            type: "linear", offset: false, min: p.xMin, max: p.xMax,
            afterBuildTicks: (s: any) => { s.ticks = p.tickIdx.map((value) => ({ value })); },
            afterFit: (s: any) => { s.height = p.height - p.plotH; zeroPad(s); },
            ticks: { autoSkip: false, maxRotation: 0, minRotation: 0, padding: 4, color: TXT, font: { family: FONT, size: 22 },
              callback: (_v: any, i: number) => p.tickLabels[i] },
            grid: { offset: false, drawOnChartArea: false, drawTicks: true, tickLength: 6, tickColor: "#c4c4c4", lineWidth: 2 },
            border: { color: "#c8c8c8", width: 2 },
          },
          y: {
            type: "linear", position: "right", min: p.yMin, max: p.yMax,
            afterFit: (s: any) => { s.width = p.width - p.plotW; zeroPad(s); },
            ticks: { stepSize: p.step, includeBounds: false, padding: 5, color: TXT, font: { family: FONT, size: 22 }, callback: (v: any) => fmtPrice(v) },
            grid: { lineWidth: 2, tickLength: 8, tickColor: "#b8b8b8",
              color: (c: any) => (p.majors.includes(c.tick && c.tick.value) ? "#e0e0e0" : "#f2f2f2") },
            border: { color: "#c4c4c4", width: 2 },
          },
        },
      } as any,
    } as any);
    // Any inset left by the layout is compensated so the plot area lands exactly on the panel.
    const area = chart.chartArea;
    const dx = Math.round(area.left), dy = Math.round(area.top);
    if (dx > 0 || dy > 0) {
      canvas.style.left = `${p.left - dx}px`;
      canvas.style.top = `${p.top - dy}px`;
      chart.resize(p.width + dx, p.height + dy);
    }
    return () => chart.destroy();
  }, [p]);
  return <canvas ref={ref} width={p.width} height={p.height} style={{ position: "absolute", left: p.left, top: p.top, width: p.width, height: p.height }} />;
}

const abs = (left: number, top: number, extra: any = {}) => ({ position: "absolute" as const, left, top, ...extra });

function Caret({ x, y }: { x: number; y: number }) {
  return <svg width={16} height={12} style={abs(x, y - 6)}><path d="M1 1 H15 L8 11 Z" fill="#333" /></svg>;
}

function CandleIcon({ x, y }: { x: number; y: number }) {
  return (
    <svg width={32} height={34} style={abs(x, y - 17)}>
      <line x1={7} y1={11} x2={7} y2={32} stroke="#a01c1c" strokeWidth={2} />
      <rect x={2} y={15} width={10} height={13} fill="#f08080" stroke="#b02020" strokeWidth={2} />
      <line x1={23} y1={1} x2={23} y2={32} stroke="#0e8a0e" strokeWidth={2} />
      <rect x={17} y={7} width={12} height={18} fill="#66e066" stroke="#0e8a0e" strokeWidth={2} />
    </svg>
  );
}

function LinkIcon({ x, y, color }: { x: number; y: number; color: string }) {
  return (
    <svg width={20} height={38} style={abs(x, y - 19)}>
      <rect x={2} y={1} width={16} height={17} rx={8} fill="none" stroke={color} strokeWidth={4} />
      <rect x={2} y={20} width={16} height={17} rx={8} fill="none" stroke={color} strokeWidth={4} />
      <line x1={4} y1={9} x2={16} y2={9} stroke={color} strokeWidth={3} />
      <line x1={4} y1={28} x2={16} y2={28} stroke={color} strokeWidth={3} />
    </svg>
  );
}

function Refresh({ x, y }: { x: number; y: number }) {
  return (
    <svg width={40} height={42} viewBox="0 0 40 42" style={abs(x, y - 21)}>
      <path d="M10 22 V14 Q12 4 24 4" fill="none" stroke="#ee4444" strokeWidth={5} />
      <path d="M1 22 H19 L10 36 Z" fill="#ee3333" />
      <path d="M30 20 V28 Q28 38 16 38" fill="none" stroke="#18a818" strokeWidth={5} />
      <path d="M21 20 H39 L30 6 Z" fill="#18a818" />
    </svg>
  );
}

function Button({ x, y }: { x: number; y: number }) {
  return (
    <svg width={52} height={34} style={abs(x, y)}>
      <path d="M1 34 V1 H52" fill="none" stroke="#c8c8c8" strokeWidth={2} />
      <path d="M26 3 L32 12 H28 V18 H24 V12 H20 Z" fill="#1a5fc8" />
      <rect x={9} y={18} width={34} height={14} rx={2} fill="#fff" stroke="#8a98a8" strokeWidth={2} />
      {[13, 19, 25, 31].map((rx) => <rect key={rx} x={rx} y={21} width={4} height={8} fill="#222" />)}
    </svg>
  );
}

type HeaderCfg = {
  left: number; top: number; width: number; height: number; active: boolean;
  closeX: number; candleX: number; linkX: number; seps: number[];
  dowX: number; carets: number[]; ticksX: number; ticks: string; unitsX: number; units: string;
  infoX: number; redX: number; timeX: number; refreshX: number;
};

function Header({ h }: { h: HeaderCfg }) {
  const cy = h.height / 2 + 1;
  const ctl = h.active ? "#8b8f92" : "#c4c4c4";
  const text = (x: number, s: string, color = "#333") => (
    <span style={abs(x, cy - 14, { font: `21px/28px ${FONT}`, color, whiteSpace: "nowrap" })}>{s}</span>
  );
  return (
    <div style={abs(h.left, h.top, { width: h.width, height: h.height,
      background: h.active ? "linear-gradient(#e6e9eb,#c9ced1)" : "linear-gradient(#fbfbfb,#e9e9e9)" })}>
      <svg width={120} height={h.height} style={abs(h.closeX - h.left, 0)}>
        <path d={`M6 ${cy - 12} L24 ${cy + 12} M24 ${cy - 12} L6 ${cy + 12}`} stroke={ctl} strokeWidth={4} />
        <rect x={40} y={cy + 7} width={20} height={5} rx={1} fill={ctl} />
        <rect x={74} y={cy - 11} width={17} height={23} fill="none" stroke={ctl} strokeWidth={3} />
        <rect x={74} y={cy - 11} width={17} height={5} fill={ctl} />
      </svg>
      <CandleIcon x={h.candleX - h.left} y={cy} />
      <LinkIcon x={h.linkX - h.left} y={cy} color="#8c8c8c" />
      {h.seps.map((s) => <div key={s} style={abs(s - h.left, 0, { width: 2, height: h.height, background: h.active ? "#9aa0a4" : "#c8c8c8" })} />)}
      {text(h.dowX - h.left, "DOW")}
      {h.carets.map((c) => <Caret key={c} x={c - h.left} y={cy} />)}
      {text(h.ticksX - h.left, h.ticks)}
      {text(h.unitsX - h.left, h.units)}
      <div style={abs(h.infoX - h.left, cy - 15, { width: 20, height: 26, border: "2px solid #8da3b3", background: "#f4f6f7", color: "#555", textAlign: "center", font: "bold 20px/26px 'Liberation Serif', serif" })}>i</div>
      {text(h.redX - h.left, "(-0,03 %)", "#b3202c")}
      {text(h.timeX - h.left, "15:49:58")}
      <Refresh x={h.refreshX - h.left} y={cy} />
    </div>
  );
}

const headers: HeaderCfg[] = [
  { left: 2, top: 2, width: 1054, height: 48, active: false, closeX: 10, candleX: 208, linkX: 256, seps: [247, 283, 382, 531, 676], dowX: 292, carets: [355, 506, 652], ticksX: 394, ticks: "3 600 ticks", unitsX: 541, units: "200 unités", infoX: 693, redX: 730, timeX: 824, refreshX: 1012 },
  { left: 2, top: 900, width: 1054, height: 46, active: false, closeX: 10, candleX: 215, linkX: 263, seps: [255, 290, 391, 520, 666], dowX: 300, carets: [364, 497, 642], ticksX: 402, ticks: "600 ticks", unitsX: 531, units: "200 unités", infoX: 682, redX: 720, timeX: 814, refreshX: 1012 },
  { left: 1060, top: 2, width: 1820, height: 48, active: true, closeX: 1068, candleX: 1654, linkX: 1704, seps: [1695, 1731, 1831, 1961, 2107], dowX: 1740, carets: [1803, 1936, 2084], ticksX: 1843, ticks: "100 ticks", unitsX: 1972, units: "400 unités", infoX: 2123, redX: 2160, timeX: 2263, refreshX: 2836 },
];

function Bar({ x, y, w, h, c = "#8a8d8f" }: { x: number; y: number; w: number; h: number; c?: string }) {
  return <div style={abs(x, y, { width: w, height: h, background: c })} />;
}

function ValueBox({ x, y, w, h, s }: { x: number; y: number; w: number; h: number; s: string }) {
  return (
    <div style={abs(x, y, { width: w, height: h, boxSizing: "border-box", border: "2px solid #d0d0d0", background: "#f5f5f5", color: TXT, font: `22px/${h - 4}px ${FONT}`, textAlign: "center", whiteSpace: "nowrap" })}>{s}</div>
  );
}

export default function App() {
  return (
    <div style={{ position: "fixed", left: 0, top: 0, width: 2880, height: 1800, background: "#fff", overflow: "hidden" }}>
      {panels.map((p, i) => <ChartPanel key={i} p={p} />)}
      {headers.map((h, i) => <Header key={i} h={h} />)}
      <ValueBox x={963} y={950} w={92} h={32} s="36 197,7" />
      <ValueBox x={2786} y={377} w={92} h={28} s="36 134,1" />
      <Button x={1005} y={863} />
      <Button x={1005} y={1763} />
      <Button x={2827} y={1764} />
      <Bar x={0} y={0} w={2880} h={2} />
      <Bar x={0} y={0} w={2} h={1800} />
      <Bar x={1056} y={0} w={4} h={1800} />
      <Bar x={0} y={50} w={1058} h={2} />
      <Bar x={1058} y={50} w={1822} h={2} />
      <Bar x={0} y={896} w={1058} h={4} />
      <Bar x={0} y={946} w={1058} h={3} />
      <Bar x={0} y={1797} w={2880} h={3} />
    </div>
  );
}
